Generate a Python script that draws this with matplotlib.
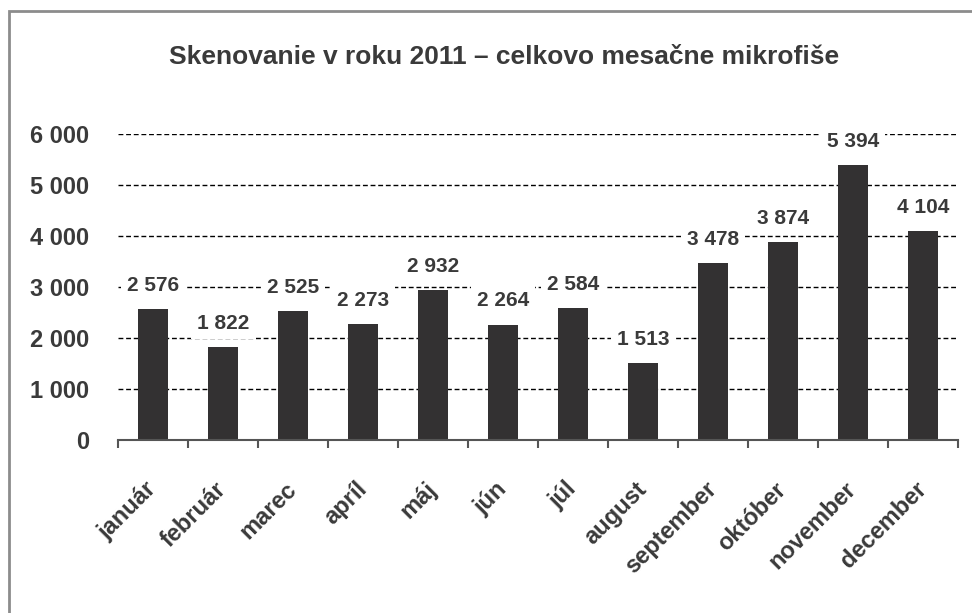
import matplotlib
matplotlib.use("Agg")
import matplotlib.pyplot as plt
from matplotlib.patches import Rectangle

months = ["január", "február", "marec", "apríl", "máj", "jún", "júl",
          "august", "september", "október", "november", "december"]
values = [2576, 1822, 2525, 2273, 2932, 2264, 2584, 1513, 3478, 3874, 5394, 4104]
yticks = [0, 1000, 2000, 3000, 4000, 5000, 6000]
title = "Skenovanie v roku 2011 – celkovo mesačne mikrofiše"

def fmt(v):
    return f"{v:,}".replace(",", " ")

plt.rcParams['font.family'] = ['Liberation Sans', 'DejaVu Sans']
plt.rcParams['font.weight'] = 'bold'
TXT = "#3a3a3a"

W, H = 972, 613
fig = plt.figure(figsize=(W / 100, H / 100), dpi=100)
fig.patch.set_facecolor("white")

# outer frame (left and top edges visible)
fig.add_artist(Rectangle((9 / W, -0.1), 1.2, 1 - 11 / H + 0.1, transform=fig.transFigure,
                         fill=False, edgecolor="#8c8c8c", linewidth=2))

ax = fig.add_axes([118 / W, 1 - 440 / H, (958 - 118) / W, (440 - 134) / H])
x = list(range(len(months)))
ax.bar(x, values, width=0.43, color="#333132", zorder=3)

ax.set_xlim(-0.5, len(months) - 0.5)
ax.set_ylim(0, 6000)

for s in ["top", "right", "left"]:
    ax.spines[s].set_visible(False)
ax.spines["bottom"].set_color("#555555")
ax.spines["bottom"].set_linewidth(1.5)
ax.spines["bottom"].set_zorder(4)

ax.set_yticks(yticks)
ax.set_yticklabels([fmt(v) for v in yticks], fontsize=17, color=TXT, fontweight='bold')
ax.tick_params(axis='y', length=0, pad=21)
for v in yticks[1:]:
    ax.axhline(v, color="black", linewidth=1, linestyle=(0, (3.5, 2)), zorder=1)

ax.set_xticks(x)
ax.set_xticklabels(months, rotation=45, ha='right', va='center', rotation_mode='anchor',
                   fontsize=17, color=TXT, fontweight='bold')
ax.tick_params(axis='x', which='major', length=0, pad=33)
ax.set_xticks([i - 0.5 for i in range(len(months) + 1)], minor=True)
ax.tick_params(axis='x', which='minor', length=6, width=1.5, color="#555555", direction='out')

for xi, v in zip(x, values):
    ax.annotate(fmt(v), (xi, v), xytext=(0, 17), textcoords='offset points',
                ha='center', va='center', fontsize=15, fontweight='bold', color=TXT,
                bbox=dict(boxstyle='square,pad=0.3', facecolor='white', edgecolor='none'),
                zorder=5, annotation_clip=False)

fig.text(504 / W, 1 - 57 / H, title, ha='center', va='center', fontsize=19,
         fontweight='bold', color=TXT)

fig.savefig("out.png", dpi=100, facecolor="white")
